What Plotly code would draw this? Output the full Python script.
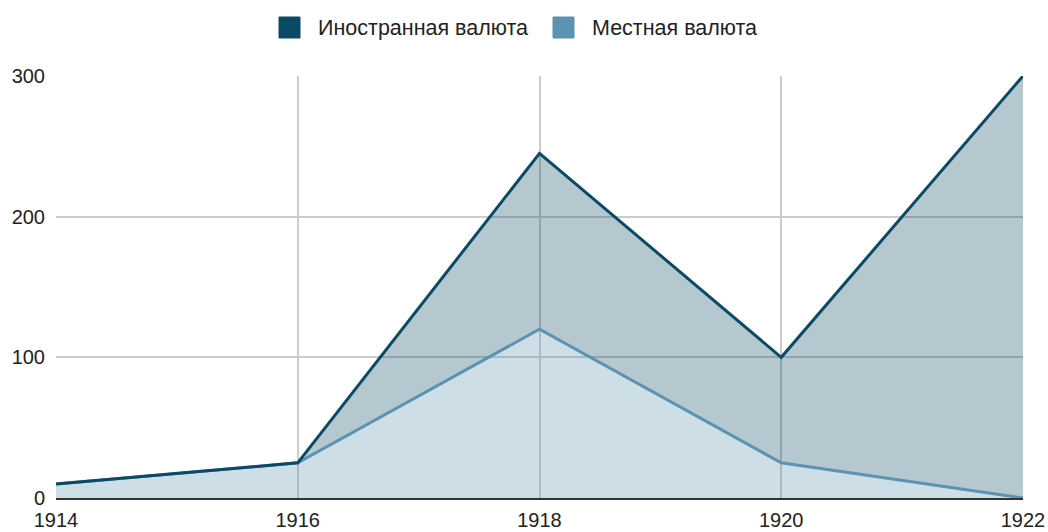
import plotly.graph_objects as go

years = [1914, 1916, 1918, 1920, 1922]
foreign = [10, 25, 245, 100, 300]
local = [10, 25, 120, 25, 0]
names = ["Иностранная валюта", "Местная валюта"]
dark = "#0b4a64"
light = "#5b93b0"

W, H = 1048, 532
L, R, T, B = 56, 25, 76, 34
pw, ph = W - L - R, H - T - B


def px(x):
    return (x - L) / pw


def py(y):
    return (H - B - y) / ph


fig = go.Figure()
fig.add_trace(go.Scatter(x=years, y=local, mode="lines", line=dict(color=light, width=3),
                         fill="tozeroy", fillcolor="rgba(91,147,176,0.3)", showlegend=False,
                         name=names[1]))
fig.add_trace(go.Scatter(x=years, y=foreign, mode="lines", line=dict(color=dark, width=3),
                         fill="tonexty", fillcolor="rgba(11,74,100,0.3)", showlegend=False,
                         name=names[0]))

# manual legend (squares + labels)
legend_items = [(279, dark, names[0]), (553, light, names[1])]
for x0, col, label in legend_items:
    fig.add_shape(type="rect", xref="paper", yref="paper",
                  x0=px(x0), x1=px(x0 + 21), y0=py(38), y1=py(17),
                  fillcolor=col, line=dict(color=col, width=1))
    fig.add_annotation(xref="paper", yref="paper", x=px(x0 + 37), y=py(28),
                       xanchor="left", yanchor="middle", text=label, showarrow=False,
                       font=dict(size=21.5, color="#222"))

fig.update_layout(
    width=W, height=H,
    margin=dict(l=L, r=R, t=T, b=B),
    paper_bgcolor="white", plot_bgcolor="white",
    font=dict(family="Arial, Liberation Sans, sans-serif", size=20, color="#222"),
    showlegend=False,
)
fig.update_xaxes(range=[1914, 1922], tickmode="array", tickvals=years,
                 ticktext=[str(y) for y in years], showgrid=True, gridcolor="#cccccc",
                 gridwidth=1.5, zeroline=False, showline=True, linecolor="#333333",
                 linewidth=2, ticks="", ticklabelstandoff=3, automargin=False)
fig.update_yaxes(range=[0, 300], tickvals=[0, 100, 200, 300], showgrid=True,
                 gridcolor="#cccccc", gridwidth=1.5, zeroline=False, ticks="",
                 ticklabelstandoff=10, automargin=False)

fig.write_html("out.html", config={"displayModeBar": False},
               post_script="document.body.style.margin='0';")
